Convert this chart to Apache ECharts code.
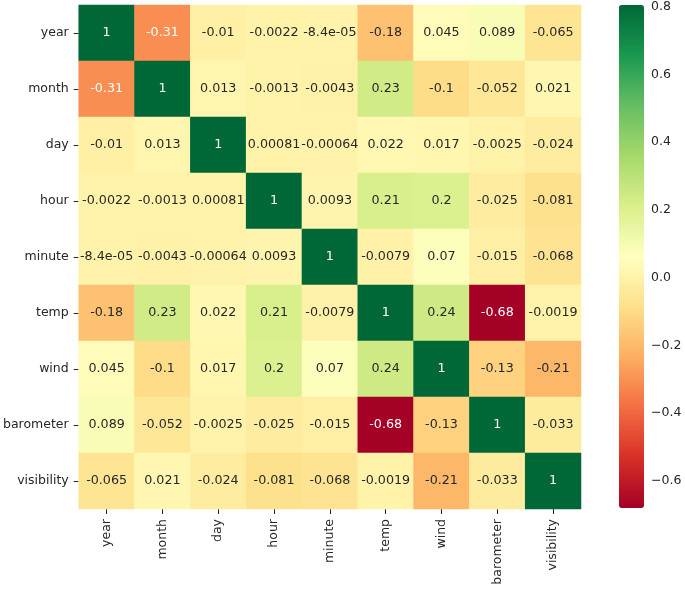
<!DOCTYPE html>
<html>
<head>
<meta charset="utf-8">
<script src="https://cdn.jsdelivr.net/npm/echarts@6/dist/echarts.min.js"></script>
<style>
  html, body { margin: 0; padding: 0; background: #fff; }
  #main { width: 685px; height: 589px; }
</style>
</head>
<body>
<div id="main"></div>
<script>
// correlation matrix, rows and columns share the same names
var names = ['year', 'month', 'day', 'hour', 'minute', 'temp', 'wind', 'barometer', 'visibility']
var rowYear = [1, -0.31, -0.01, -0.0022, -0.000084, -0.18, 0.045, 0.089, -0.065]
var rowMonth = [-0.31, 1, 0.013, -0.0013, -0.0043, 0.23, -0.1, -0.052, 0.021]
var rowDay = [-0.01, 0.013, 1, 0.00081, -0.00064, 0.022, 0.017, -0.0025, -0.024]
var rowHour = [-0.0022, -0.0013, 0.00081, 1, 0.0093, 0.21, 0.2, -0.025, -0.081]
var rowMinute = [-0.000084, -0.0043, -0.00064, 0.0093, 1, -0.0079, 0.07, -0.015, -0.068]
var rowTemp = [-0.18, 0.23, 0.022, 0.21, -0.0079, 1, 0.24, -0.68, -0.0019]
var rowWind = [0.045, -0.1, 0.017, 0.2, 0.07, 0.24, 1, -0.13, -0.21]
var rowBarometer = [0.089, -0.052, -0.0025, -0.025, -0.015, -0.68, -0.13, 1, -0.033]
var rowVisibility = [-0.065, 0.021, -0.024, -0.081, -0.068, -0.0019, -0.21, -0.033, 1]
var rows = [rowYear, rowMonth, rowDay, rowHour, rowMinute, rowTemp, rowWind, rowBarometer, rowVisibility]

// colour scale limits and colorbar ticks
var scaleMin = -0.68
var scaleMax = 0.8
var colorbarTicks = [-0.6, -0.4, -0.2, 0.0, 0.2, 0.4, 0.6, 0.8]

// matplotlib RdYlGn
var rdYlGn = ['#a50026', '#d73027', '#f46d43', '#fdae61', '#fee08b', '#ffffbf',
  '#d9ef8b', '#a6d96a', '#66bd63', '#1a9850', '#006837']

var font = 'DejaVu Sans'
var textColor = '#262626'

// mimic python's '%.2g'
function fmt2g(v) {
  if (v === 0) return '0'
  var a = Math.abs(v)
  if (a < 1e-4) {
    var s = v.toExponential(1).split('e')
    var m = s[0].replace(/\.?0+$/, '')
    var e = parseInt(s[1], 10)
    var es = (e < 0 ? '-' : '+') + (Math.abs(e) < 10 ? '0' : '') + Math.abs(e)
    return m + 'e' + es
  }
  var t = v.toPrecision(2)
  if (t.indexOf('.') >= 0) t = t.replace(/0+$/, '').replace(/\.$/, '')
  return t
}

var data = []
rows.forEach(function (row, y) {
  row.forEach(function (v, x) {
    var dark = v >= 0.6 || v <= -0.3
    data.push({
      value: [x, y, v],
      label: { color: dark ? '#ffffff' : textColor }
    })
  })
})

var chart = echarts.init(document.getElementById('main'))
chart.setOption({
  animation: false,
  textStyle: { fontFamily: font },
  grid: [
    { left: 78, top: 5, width: 503, height: 504 },
    { left: 619, top: 5, width: 25, height: 503 }
  ],
  xAxis: [
    {
      type: 'category', gridIndex: 0, data: names,
      axisLine: { show: false },
      axisTick: { show: true, alignWithLabel: true, length: 5, lineStyle: { color: textColor } },
      axisLabel: { rotate: 90, margin: 10, color: textColor, fontSize: 12.5, fontFamily: font },
      splitLine: { show: false }
    },
    { type: 'value', gridIndex: 1, show: false, min: 0, max: 1 }
  ],
  yAxis: [
    {
      type: 'category', gridIndex: 0, data: names, inverse: true,
      axisLine: { show: false },
      axisTick: { show: true, alignWithLabel: true, length: 5, lineStyle: { color: textColor } },
      axisLabel: { margin: 10, color: textColor, fontSize: 12.5, fontFamily: font },
      splitLine: { show: false }
    },
    {
      type: 'value', gridIndex: 1, position: 'right', min: scaleMin, max: scaleMax,
      axisLine: { show: false },
      axisTick: { show: true, length: 4, customValues: colorbarTicks, lineStyle: { color: textColor } },
      axisLabel: {
        margin: 7, color: textColor, fontSize: 12.5, fontFamily: font,
        customValues: colorbarTicks,
        formatter: function (v) { return v.toFixed(1).replace('-', '\u2212') }
      },
      splitLine: { show: false }
    }
  ],
  visualMap: {
    type: 'continuous',
    seriesIndex: 0,
    min: scaleMin,
    max: scaleMax,
    calculable: false,
    orient: 'vertical',
    left: 619,
    top: 5,
    padding: 0,
    itemWidth: 25,
    itemHeight: 503,
    text: null,
    inRange: { color: rdYlGn }
  },
  series: [{
    type: 'heatmap',
    xAxisIndex: 0,
    yAxisIndex: 0,
    data: data,
    label: {
      show: true,
      fontSize: 12.7,
      fontFamily: font,
      formatter: function (p) { return fmt2g(p.value[2]) }
    },
    itemStyle: { borderWidth: 0 },
    emphasis: { disabled: true }
  }]
})
</script>
</body>
</html>
